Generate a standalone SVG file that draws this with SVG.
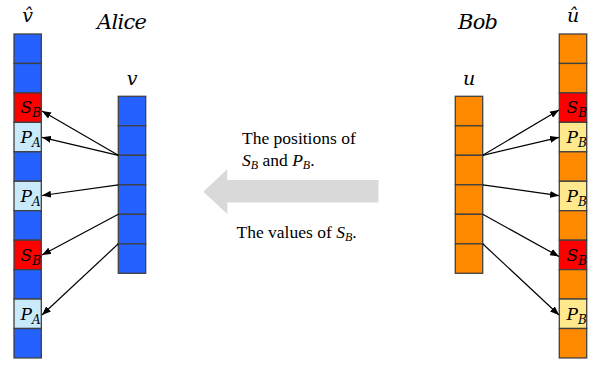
<svg xmlns="http://www.w3.org/2000/svg" width="599" height="370" viewBox="0 0 599 370">
<style>
.c{stroke:#404040;stroke-width:1.3}
.bl{fill:#2461FF}
.lb{fill:#C8EAFA}
.rd{fill:#FF0000}
.or{fill:#FF8A00}
.ye{fill:#FFE98C}
.m{font-style:italic;fill:#000}
.cell{font-size:17px}
.t{font-size:17.5px;fill:#000}
.ln{stroke:#000;stroke-width:1.2;fill:none;marker-end:url(#ah)}
</style>
<defs>
<marker id="ah" markerUnits="userSpaceOnUse" markerWidth="9" markerHeight="7" refX="9" refY="3.5" orient="auto">
<path d="M0,0 L9,3.5 L0,7 z" fill="#000"/>
</marker>
</defs>

<g id="big-arrow">
<polygon points="203.3,191.7 227.3,169.3 227.3,180 378.5,180 378.5,202.5 227.3,202.5 227.3,214" fill="#D9D9D9"/>
</g>

<g font-family="'DejaVu Serif', 'Liberation Serif', serif">
<g id="alice-label"><text class="m" x="97" y="28.5" font-size="21" textLength="50" lengthAdjust="spacing">Alice</text></g>
<g id="bob-label"><text class="m" x="458" y="28.5" font-size="21" textLength="40" lengthAdjust="spacing">Bob</text></g>
</g>

<g id="vhat" font-family="'DejaVu Serif', 'Liberation Serif', serif">
<text class="m" x="27.5" y="21.5" font-size="19" text-anchor="middle">v̂</text>
<rect class="c bl" x="14" y="34" width="27.3" height="29.45"/>
<rect class="c bl" x="14" y="63.45" width="27.3" height="29.45"/>
<rect class="c rd" x="14" y="92.9" width="27.3" height="29.45"/>
<rect class="c lb" x="14" y="122.35" width="27.3" height="29.45"/>
<rect class="c bl" x="14" y="151.8" width="27.3" height="29.45"/>
<rect class="c lb" x="14" y="181.25" width="27.3" height="29.45"/>
<rect class="c bl" x="14" y="210.7" width="27.3" height="29.45"/>
<rect class="c rd" x="14" y="240.15" width="27.3" height="29.45"/>
<rect class="c bl" x="14" y="269.6" width="27.3" height="29.45"/>
<rect class="c lb" x="14" y="299.05" width="27.3" height="29.45"/>
<rect class="c bl" x="14" y="328.5" width="27.3" height="29.45"/>
<text class="m cell" x="20.5" y="113">S<tspan dy="4" font-size="12">B</tspan></text>
<text class="m cell" x="20.5" y="142.8">P<tspan dy="4" font-size="12">A</tspan></text>
<text class="m cell" x="20.5" y="201.7">P<tspan dy="4" font-size="12">A</tspan></text>
<text class="m cell" x="20.5" y="260.6">S<tspan dy="4" font-size="12">B</tspan></text>
<text class="m cell" x="20.5" y="319.5">P<tspan dy="4" font-size="12">A</tspan></text>
</g>

<g id="v" font-family="'DejaVu Serif', 'Liberation Serif', serif">
<text class="m" x="132" y="85" font-size="19" text-anchor="middle">v</text>
<rect class="c bl" x="118.3" y="96.3" width="27.4" height="29.5"/>
<rect class="c bl" x="118.3" y="125.8" width="27.4" height="29.5"/>
<rect class="c bl" x="118.3" y="155.3" width="27.4" height="29.5"/>
<rect class="c bl" x="118.3" y="184.8" width="27.4" height="29.5"/>
<rect class="c bl" x="118.3" y="214.3" width="27.4" height="29.5"/>
<rect class="c bl" x="118.3" y="243.8" width="27.4" height="29.5"/>
</g>

<g id="u" font-family="'DejaVu Serif', 'Liberation Serif', serif">
<text class="m" x="469" y="85" font-size="19" text-anchor="middle">u</text>
<rect class="c or" x="455.3" y="96.3" width="27.4" height="29.5"/>
<rect class="c or" x="455.3" y="125.8" width="27.4" height="29.5"/>
<rect class="c or" x="455.3" y="155.3" width="27.4" height="29.5"/>
<rect class="c or" x="455.3" y="184.8" width="27.4" height="29.5"/>
<rect class="c or" x="455.3" y="214.3" width="27.4" height="29.5"/>
<rect class="c or" x="455.3" y="243.8" width="27.4" height="29.5"/>
</g>

<g id="uhat" font-family="'DejaVu Serif', 'Liberation Serif', serif">
<text class="m" x="573" y="21.5" font-size="19" text-anchor="middle">û</text>
<rect class="c or" x="559.3" y="34" width="27.4" height="29.45"/>
<rect class="c or" x="559.3" y="63.45" width="27.4" height="29.45"/>
<rect class="c rd" x="559.3" y="92.9" width="27.4" height="29.45"/>
<rect class="c ye" x="559.3" y="122.35" width="27.4" height="29.45"/>
<rect class="c or" x="559.3" y="151.8" width="27.4" height="29.45"/>
<rect class="c ye" x="559.3" y="181.25" width="27.4" height="29.45"/>
<rect class="c or" x="559.3" y="210.7" width="27.4" height="29.45"/>
<rect class="c rd" x="559.3" y="240.15" width="27.4" height="29.45"/>
<rect class="c or" x="559.3" y="269.6" width="27.4" height="29.45"/>
<rect class="c ye" x="559.3" y="299.05" width="27.4" height="29.45"/>
<rect class="c or" x="559.3" y="328.5" width="27.4" height="29.45"/>
<text class="m cell" x="566.5" y="113">S<tspan dy="4" font-size="12">B</tspan></text>
<text class="m cell" x="566.5" y="142.8">P<tspan dy="4" font-size="12">B</tspan></text>
<text class="m cell" x="566.5" y="201.7">P<tspan dy="4" font-size="12">B</tspan></text>
<text class="m cell" x="566.5" y="260.6">S<tspan dy="4" font-size="12">B</tspan></text>
<text class="m cell" x="566.5" y="319.5">P<tspan dy="4" font-size="12">B</tspan></text>
</g>

<g id="message" font-family="'Liberation Serif', 'Times New Roman', serif">
<text class="t" x="242" y="143.5">The positions of</text>
<text class="t" x="242" y="165.5"><tspan font-style="italic">S</tspan><tspan font-style="italic" font-size="12" dy="3">B</tspan><tspan dy="-3"> and </tspan><tspan font-style="italic">P</tspan><tspan font-style="italic" font-size="12" dy="3">B</tspan><tspan dy="-3">.</tspan></text>
<text class="t" x="236.5" y="238">The values of <tspan font-style="italic">S</tspan><tspan font-style="italic" font-size="12" dy="3">B</tspan><tspan dy="-3">.</tspan></text>
</g>

<g id="connectors">
<line class="ln" x1="118.3" y1="155.3" x2="42" y2="111"/>
<line class="ln" x1="118.3" y1="155.3" x2="42" y2="137.3"/>
<line class="ln" x1="118.3" y1="184.8" x2="42" y2="195.5"/>
<line class="ln" x1="118.3" y1="214.3" x2="42" y2="255"/>
<line class="ln" x1="118.3" y1="243.8" x2="42" y2="315"/>
<line class="ln" x1="482.7" y1="155.3" x2="559" y2="110"/>
<line class="ln" x1="482.7" y1="155.3" x2="559" y2="137.3"/>
<line class="ln" x1="482.7" y1="184.8" x2="559" y2="195.7"/>
<line class="ln" x1="482.7" y1="214.3" x2="559" y2="256.5"/>
<line class="ln" x1="482.7" y1="243.8" x2="559" y2="315"/>
</g>
</svg>
